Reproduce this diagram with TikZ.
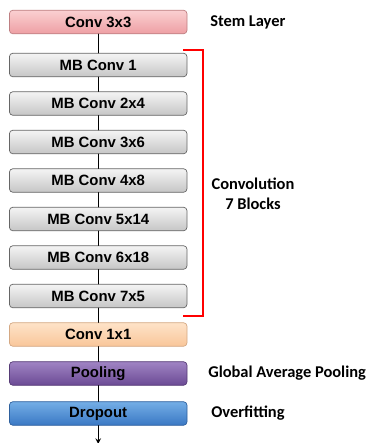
\documentclass[tikz,border=0pt]{standalone}
\usepackage{fontspec}
\setmainfont{Liberation Sans}
\newfontfamily\lblfont{Carlito}
\usetikzlibrary{arrows}
\definecolor{grtop}{HTML}{F4F4F4}
\definecolor{grbot}{HTML}{C6C6C6}
\definecolor{pktop}{HTML}{FAD0D2}
\definecolor{pkbot}{HTML}{EE9FA3}
\definecolor{ortop}{HTML}{FEE3C8}
\definecolor{orbot}{HTML}{F9C69A}
\definecolor{putop}{HTML}{A084C4}
\definecolor{pubot}{HTML}{6B4A94}
\definecolor{bltop}{HTML}{74AEE6}
\definecolor{blbot}{HTML}{3A78C4}
\tikzset{
  blk/.style={draw=gray!80!black, rounded corners=2.5pt, minimum width=4.44cm,
    minimum height=0.59cm, inner sep=0pt, font=\fontsize{10.6}{12}\selectfont\bfseries, line width=0.5pt},
  mb/.style={blk, top color=grtop, bottom color=grbot},
  lbl/.style={font=\lblfont\fontsize{11.7}{14}\selectfont\bfseries, inner sep=0pt}
}
\begin{document}
\begin{tikzpicture}[line join=round, line cap=round,>=stealth]
\useasboundingbox (0,0) rectangle (9.275,-11.075);
\node[blk, top color=pktop, bottom color=pkbot, draw=pkbot!80!black] (S) at (2.455,-0.55) {Conv 3x3};
\foreach \i/\t in {1/1,2/2x4,3/3x6,4/4x8,5/5x14,6/6x18,7/7x5}{
  \node[mb] (M\i) at (2.455,{-1.625-0.9625*(\i-1)}) {MB Conv \t};}
\node[blk, top color=ortop, bottom color=orbot, draw=orbot!85!black] (H) at (2.455,-8.3625) {Conv 1x1};
\node[blk, top color=putop, bottom color=pubot, draw=pubot!80!black] (P) at (2.455,-9.3375) {Pooling};
\node[blk, top color=bltop, bottom color=blbot, draw=blbot!80!black] (D) at (2.455,-10.3375) {Dropout};
\coordinate (E) at (2.455,-11.1);
% connections
\foreach \a/\b in {S/M1,M1/M2,M2/M3,M3/M4,M4/M5,M5/M6,M6/M7,M7/H,H/P,P/D}{\draw[line width=0.8pt] (\a)--(\b);}
\draw[->,line width=0.8pt] (D)--(E);
% bracket
\draw[red, line width=1.1pt, line cap=butt, line join=miter] (4.575,-1.25)--(5.075,-1.25)--(5.075,-7.9)--(4.575,-7.9);
% labels
\node[lbl, anchor=west] (LS) at (5.25,-0.55) {Stem Layer};
\node[lbl, align=center] (LC) at (6.325,-4.85) {Convolution\\7 Blocks};
\node[lbl, anchor=west] (LP) at (5.2,-9.3375) {Global Average Pooling};
\node[lbl, anchor=west] (LD) at (5.275,-10.3375) {Overfitting};
\end{tikzpicture}
\end{document}
